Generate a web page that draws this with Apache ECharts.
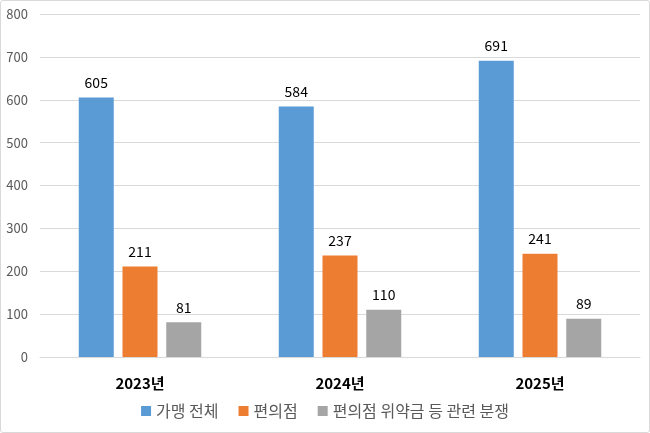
<!DOCTYPE html>
<html>
<head>
<meta charset="utf-8">
<script src="https://cdn.jsdelivr.net/npm/echarts@6/dist/echarts.min.js"></script>
<style>
html, body { margin: 0; padding: 0; background: #fff; }
#chart { width: 648px; height: 431px; border: 1px solid #d9d9d9; border-radius: 3px; }
</style>
</head>
<body>
<div id="chart"></div>
<script>
var years = ['2023년', '2024년', '2025년'];
var seriesNames = ['가맹 전체', '편의점', '편의점 위약금 등 관련 분쟁'];
var totalAll = [605, 584, 691];
var convStore = [211, 237, 241];
var convPenalty = [81, 110, 89];
var colors = ['#5B9BD5', '#ED7D31', '#A5A5A5'];

var fontFamily = '"Noto Sans CJK KR", "Malgun Gothic", sans-serif';

function makeSeries(name, values, color) {
    return {
        name: name,
        type: 'bar',
        barWidth: 35,
        barGap: '25%',
        itemStyle: { color: color },
        label: {
            show: true,
            position: 'top',
            distance: 8,
            color: '#000',
            fontSize: 14,
            fontFamily: fontFamily
        },
        data: values
    };
}

var myChart = echarts.init(document.getElementById('chart'));
myChart.setOption({
    animation: false,
    textStyle: { fontFamily: fontFamily },
    grid: { left: 39, right: 9, top: 13, bottom: 75 },
    legend: {
        bottom: 8,
        itemWidth: 10,
        itemHeight: 10,
        itemGap: 20,
        icon: 'rect',
        textStyle: { fontSize: 16, color: '#595959', fontFamily: fontFamily },
        data: seriesNames
    },
    xAxis: {
        type: 'category',
        data: years,
        axisLine: { lineStyle: { color: '#d9d9d9' } },
        axisTick: { show: false },
        axisLabel: {
            margin: 19,
            fontSize: 15,
            fontWeight: 'bold',
            color: '#000',
            fontFamily: fontFamily
        }
    },
    yAxis: {
        type: 'value',
        min: 0,
        max: 800,
        interval: 100,
        axisLine: { show: false },
        axisTick: { show: false },
        splitLine: { lineStyle: { color: '#d9d9d9' } },
        axisLabel: { color: '#595959', fontSize: 13, margin: 12, fontFamily: fontFamily }
    },
    series: [
        makeSeries(seriesNames[0], totalAll, colors[0]),
        makeSeries(seriesNames[1], convStore, colors[1]),
        makeSeries(seriesNames[2], convPenalty, colors[2])
    ]
});
</script>
</body>
</html>
